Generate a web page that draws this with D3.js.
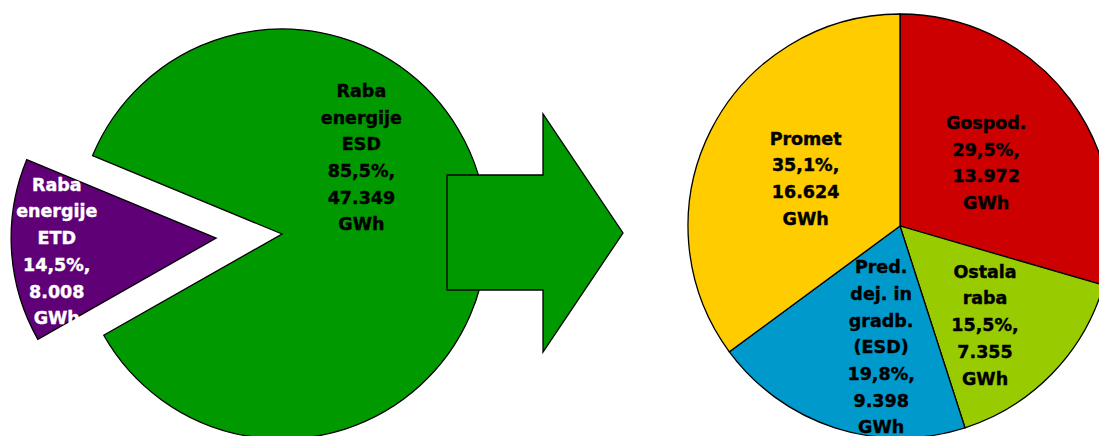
<!DOCTYPE html>
<html lang="en">
<head>
    <meta charset="UTF-8">
    <title>Raba energije</title>
    <style>
        body { margin: 0; background: #fff; }
        svg { display: block; }
        .lbl { font-family: "DejaVu Sans", Verdana, sans-serif; font-weight: bold; font-size: 17.5px; stroke-width: 0.4px; }
    </style>
</head>
<body>
    <div id="chart"></div>
    <script src="https://d3js.org/d3.v7.min.js"></script>
    <script>
        // left pie: total use split ETD / ESD (GWh)
        const leftNames = [['Raba', 'energije', 'ETD'], ['Raba', 'energije', 'ESD']]
        const leftValues = [8008, 47349]
        const leftColors = ['#5f0077', '#009900']
        const leftText = ['#ffffff', '#000000']

        // right pie: ESD split by sector (GWh)
        const rightNames = [['Gospod.'], ['Ostala', 'raba'], ['Pred.', 'dej. in', 'gradb.', '(ESD)'], ['Promet']]
        const rightValues = [13972, 7355, 9398, 16624]
        const rightColors = ['#cc0000', '#99cc00', '#0099cc', '#ffcc00']

        const width = 1099
        const height = 436
        const lineH = 26.7

        const loc = d3.formatLocale({ decimal: ',', thousands: '.', grouping: [3], currency: ['', ''] })
        const fmtNum = loc.format(',d')
        const fmtPct = loc.format('.1%')

        const svg = d3.select('#chart')
            .append('svg')
            .attr('width', width)
            .attr('height', height)

        const deg = Math.PI / 180

        // ---- left pie
        const L = { cx: 282, cy: 234, r: 205, explode: 66 }
        const leftPie = d3.pie().sort(null)
            .startAngle(240.4 * deg)
            .endAngle(240.4 * deg + 2 * Math.PI)(leftValues)
        const leftArc = d3.arc().innerRadius(0).outerRadius(L.r)
        const leftSum = d3.sum(leftValues)

        const explodeOf = (d, i) => {
            if (i !== 0) return [0, 0]
            const a = (d.startAngle + d.endAngle) / 2
            return [Math.sin(a) * L.explode, -Math.cos(a) * L.explode]
        }

        const gl = svg.append('g').attr('transform', `translate(${L.cx},${L.cy})`)
        gl.selectAll('path')
            .data(leftPie)
            .join('path')
            .attr('transform', (d, i) => `translate(${explodeOf(d, i)})`)
            .attr('d', leftArc)
            .attr('fill', (d, i) => leftColors[i])
            .attr('stroke', '#000')
            .attr('stroke-width', 1.3)

        // ---- arrow between the pies
        const arrow = d3.path()
        arrow.moveTo(447, 175)
        arrow.lineTo(543, 175)
        arrow.lineTo(543, 114)
        arrow.lineTo(623, 233)
        arrow.lineTo(543, 352)
        arrow.lineTo(543, 290)
        arrow.lineTo(447, 290)
        arrow.closePath()
        svg.append('path')
            .attr('d', arrow.toString())
            .attr('fill', '#009900')
            .attr('stroke', '#000')
            .attr('stroke-width', 1.3)

        // ---- right pie
        const R = { cx: 900, cy: 226, r: 212 }
        const rightPie = d3.pie().sort(null)(rightValues)
        const rightArc = d3.arc().innerRadius(0).outerRadius(R.r)
        const rightSum = d3.sum(rightValues)

        const gr = svg.append('g').attr('transform', `translate(${R.cx},${R.cy})`)
        gr.selectAll('path')
            .data(rightPie)
            .join('path')
            .attr('d', rightArc)
            .attr('fill', (d, i) => rightColors[i])
            .attr('stroke', '#000')
            .attr('stroke-width', 1.3)

        // ---- labels
        function drawLabel(g, x, y, lines, color) {
            const first = y - (lines.length - 1) / 2 * lineH + 6.3
            const t = g.append('text')
                .attr('class', 'lbl')
                .attr('text-anchor', 'middle')
                .attr('fill', color)
                .attr('stroke', color)
            lines.forEach((s, k) => {
                t.append('tspan').attr('x', x).attr('y', first + k * lineH).text(s)
            })
        }

        const leftNudge = [[-53, 6.5], [-27, -70]]
        const leftLabelArc = d3.arc().innerRadius(L.r * 0.52).outerRadius(L.r * 0.52)
        leftPie.forEach((d, i) => {
            const [ex, ey] = explodeOf(d, i)
            const [x, y] = leftLabelArc.centroid(d)
            const lines = leftNames[i].concat([fmtPct(d.value / leftSum) + ',', fmtNum(d.value), 'GWh'])
            drawLabel(gl, x + ex + leftNudge[i][0], y + ey + leftNudge[i][1], lines, leftText[i])
        })

        const rightNudge = [[-2, 3], [6, 22], [15, 16], [4, 2]]
        const rightLabelArc = d3.arc().innerRadius(R.r * 0.52).outerRadius(R.r * 0.52)
        rightPie.forEach((d, i) => {
            const [x, y] = rightLabelArc.centroid(d)
            const lines = rightNames[i].concat([fmtPct(d.value / rightSum) + ',', fmtNum(d.value), 'GWh'])
            drawLabel(gr, x + rightNudge[i][0], y + rightNudge[i][1], lines, '#000')
        })
    </script>
</body>
</html>
